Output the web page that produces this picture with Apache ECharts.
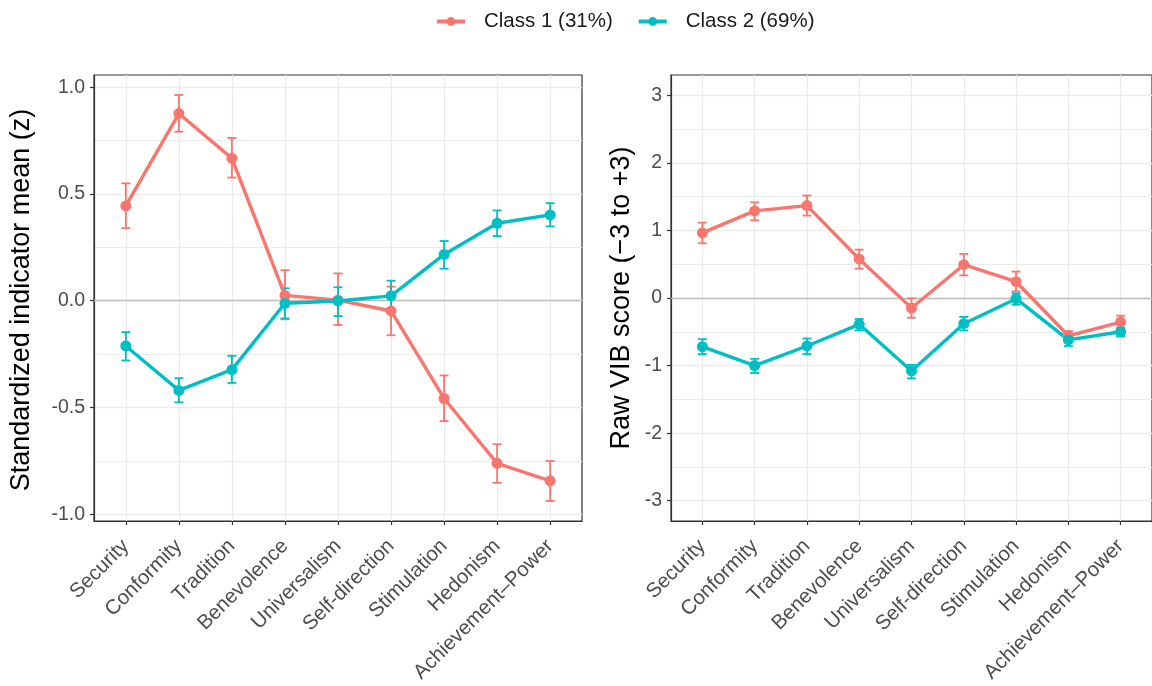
<!DOCTYPE html>
<html>
<head>
<meta charset="utf-8">
<script src="https://cdn.jsdelivr.net/npm/echarts@6/dist/echarts.min.js"></script>
<style>
html,body{margin:0;padding:0;background:#fff;}
#chart{width:1152px;height:686px;}
</style>
</head>
<body>
<div id="chart"></div>
<script>
const categories = ['Security','Conformity','Tradition','Benevolence','Universalism','Self-direction','Stimulation','Hedonism','Achievement\u2013Power'];
const seriesNames = ['Class 1 (31%)', 'Class 2 (69%)'];

// Left panel: standardized indicator means (z)
const leftC1Mean = [0.444, 0.877, 0.667, 0.025, 0.003, -0.048, -0.458, -0.762, -0.844];
const leftC1Lo   = [0.340, 0.792, 0.577, -0.087, -0.114, -0.162, -0.564, -0.853, -0.938];
const leftC1Hi   = [0.550, 0.964, 0.763, 0.143, 0.128, 0.066, -0.350, -0.672, -0.751];
const leftC2Mean = [-0.212, -0.420, -0.323, -0.012, -0.001, 0.023, 0.217, 0.363, 0.402];
const leftC2Lo   = [-0.280, -0.476, -0.385, -0.083, -0.072, -0.044, 0.150, 0.303, 0.348];
const leftC2Hi   = [-0.147, -0.363, -0.258, 0.058, 0.063, 0.094, 0.280, 0.423, 0.457];

// Right panel: raw VIB scores (-3 to +3)
const rightC1Mean = [0.963, 1.289, 1.367, 0.578, -0.148, 0.493, 0.241, -0.559, -0.356];
const rightC1Lo   = [0.810, 1.150, 1.220, 0.434, -0.292, 0.335, 0.098, -0.630, -0.450];
const rightC1Hi   = [1.115, 1.416, 1.516, 0.716, -0.005, 0.652, 0.390, -0.490, -0.262];
const rightC2Mean = [-0.72, -1.00, -0.71, -0.39, -1.08, -0.38, -0.01, -0.62, -0.50];
const rightC2Lo   = [-0.83, -1.11, -0.83, -0.48, -1.19, -0.48, -0.10, -0.71, -0.57];
const rightC2Hi   = [-0.61, -0.90, -0.60, -0.31, -0.99, -0.28, 0.07, -0.55, -0.44];

const leftTicks = [-1, -0.5, 0, 0.5, 1];
const leftMinor = [-0.75, -0.25, 0.25, 0.75];
const rightTicks = [-3, -2, -1, 0, 1, 2, 3];
const rightMinor = [-2.5, -1.5, -0.5, 0.5, 1.5, 2.5];

const C1 = '#F8766D', C2 = '#00BFC4';
const FONT = 'Liberation Sans, Arial, Helvetica, sans-serif';
const catPos = categories.map((c, i) => i + 1);

function lineData(means) { return means.map((v, i) => [i + 1, v]); }
function errData(lo, hi) { return lo.map((v, i) => [i + 1, v, hi[i]]); }
function errRender(color) {
  return function (params, api) {
    const x = api.value(0);
    const top = api.coord([x, api.value(2)]);
    const bot = api.coord([x, api.value(1)]);
    const w = 4.5;
    const st = { stroke: color, lineWidth: 1.8 };
    return { type: 'group', children: [
      { type: 'line', shape: { x1: top[0], y1: top[1], x2: bot[0], y2: bot[1] }, style: st },
      { type: 'line', shape: { x1: top[0] - w, y1: top[1], x2: top[0] + w, y2: top[1] }, style: st },
      { type: 'line', shape: { x1: bot[0] - w, y1: bot[1], x2: bot[0] + w, y2: bot[1] }, style: st }
    ]};
  };
}

function xAxis(gi) {
  return {
    type: 'value', gridIndex: gi, min: 0.4, max: 9.6,
    axisLine: { show: true, onZero: false, lineStyle: { color: '#333333', width: 1.2 } },
    axisTick: { show: true, customValues: catPos, length: 4, lineStyle: { color: '#333333', width: 1.2 } },
    axisLabel: { customValues: catPos, formatter: v => categories[Math.round(v) - 1], rotate: 45,
      fontSize: 20.5, color: '#4d4d4d', fontFamily: FONT, margin: 22, padding: [14, 0, 0, 0] },
    splitLine: { show: true, lineStyle: { color: '#ebebeb', width: 1.3 } }
  };
}
function yMain(gi, min, max, ticks, fmt) {
  return {
    type: 'value', gridIndex: gi, min: min, max: max,
    axisLine: { show: true, onZero: false, lineStyle: { color: '#333333', width: 1.2 } },
    axisTick: { show: true, customValues: ticks, length: 4, lineStyle: { color: '#333333', width: 1.2 } },
    axisLabel: { customValues: ticks, formatter: fmt, fontSize: 19.5, color: '#4d4d4d', fontFamily: FONT, margin: 9 },
    splitLine: { show: true, lineStyle: { color: '#ebebeb', width: 1.3 } }
  };
}
function yMinor(gi, min, max, minor) {
  return {
    type: 'value', gridIndex: gi, min: min, max: max, position: 'left',
    axisLine: { show: false, onZero: false }, axisLabel: { show: false },
    axisTick: { show: false, customValues: minor },
    splitLine: { show: true, lineStyle: { color: '#ebebeb', width: 1 } }
  };
}

function lineSeries(name, xi, yi, means, color, withZero) {
  const s = {
    name: name, type: 'line', xAxisIndex: xi, yAxisIndex: yi, data: lineData(means),
    symbol: 'circle', symbolSize: 11, showSymbol: true, z: 4,
    lineStyle: { color: color, width: 3.4 }, itemStyle: { color: color },
    emphasis: { disabled: true }
  };
  if (withZero) {
    s.markLine = { silent: true, symbol: 'none', label: { show: false }, animation: false,
      lineStyle: { color: '#bebebe', type: 'solid', width: 1.4 }, data: [{ yAxis: 0 }], z: 1 };
  }
  return s;
}
function errSeries(xi, yi, lo, hi, color) {
  return { type: 'custom', xAxisIndex: xi, yAxisIndex: yi, data: errData(lo, hi),
    renderItem: errRender(color), encode: { x: 0, y: [1, 2] }, z: 3, silent: true };
}

const chart = echarts.init(document.getElementById('chart'), null, { renderer: 'canvas' });
chart.setOption({
  animation: false,
  backgroundColor: '#ffffff',
  textStyle: { fontFamily: FONT },
  legend: {
    data: seriesNames, top: 6, left: 430, itemWidth: 28, itemHeight: 11, itemGap: 24,
    lineStyle: { width: 4 },
    textStyle: { fontSize: 20.5, color: '#1a1a1a', fontFamily: FONT, padding: [0, 0, 0, 14] }
  },
  grid: [
    { left: 94, top: 75, width: 488, height: 446, show: true, borderColor: '#333333', borderWidth: 1.2, backgroundColor: 'transparent' },
    { left: 671, top: 75, width: 482, height: 446, show: true, borderColor: '#333333', borderWidth: 1.2, backgroundColor: 'transparent' }
  ],
  xAxis: [xAxis(0), xAxis(1)],
  yAxis: [
    yMain(0, -1.032, 1.0576, leftTicks, v => v.toFixed(1)),
    yMinor(0, -1.032, 1.0576, leftMinor),
    yMain(1, -3.3, 3.3, rightTicks, v => String(Math.round(v))),
    yMinor(1, -3.3, 3.3, rightMinor)
  ],
  graphic: [
    { type: 'text', x: 22, y: 300, rotation: Math.PI / 2,
      style: { text: 'Standardized indicator mean (z)', fontSize: 27, fill: '#000', fontFamily: FONT, align: 'center', verticalAlign: 'middle' } },
    { type: 'text', x: 622, y: 298, rotation: Math.PI / 2,
      style: { text: 'Raw VIB score (\u22123 to +3)', fontSize: 27, fill: '#000', fontFamily: FONT, align: 'center', verticalAlign: 'middle' } }
  ],
  series: [
    errSeries(0, 0, leftC1Lo, leftC1Hi, C1),
    errSeries(0, 0, leftC2Lo, leftC2Hi, C2),
    lineSeries(seriesNames[0], 0, 0, leftC1Mean, C1, true),
    lineSeries(seriesNames[1], 0, 0, leftC2Mean, C2, false),
    errSeries(1, 2, rightC1Lo, rightC1Hi, C1),
    errSeries(1, 2, rightC2Lo, rightC2Hi, C2),
    lineSeries(seriesNames[0], 1, 2, rightC1Mean, C1, true),
    lineSeries(seriesNames[1], 1, 2, rightC2Mean, C2, false)
  ]
});
</script>
</body>
</html>
